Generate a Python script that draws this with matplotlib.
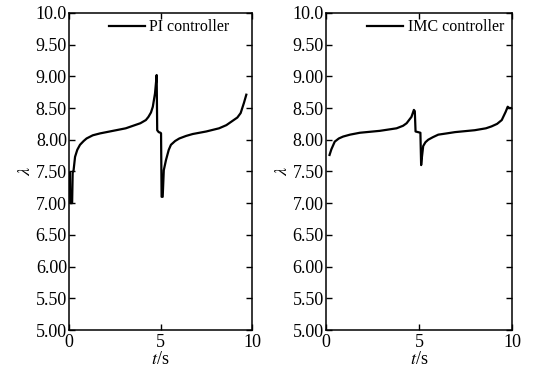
import matplotlib
matplotlib.use("Agg")
import matplotlib.pyplot as plt

plt.rcParams["font.family"] = ["Liberation Serif", "DejaVu Serif"]
plt.rcParams["mathtext.fontset"] = "stix"
plt.rcParams["font.size"] = 13

# PI controller response
t_pi = [0.05, 0.07, 0.17, 0.2, 0.25, 0.33, 0.45, 0.6, 0.8, 0.96, 1.3, 1.7,
        2.4, 3.1, 3.9, 4.2, 4.34, 4.48, 4.58, 4.7, 4.76, 4.79, 4.82, 4.9, 5.0,
        5.03, 5.06, 5.12, 5.18, 5.3, 5.45, 5.57, 5.8, 6.03, 6.4, 6.76, 7.5,
        8.2, 8.6, 8.9, 9.2, 9.38, 9.56, 9.69]
lam_pi = [7.48, 7.0, 7.0, 7.48, 7.52, 7.73, 7.84, 7.92, 7.98, 8.02, 8.07, 8.10,
          8.14, 8.18, 8.26, 8.31, 8.36, 8.43, 8.52, 8.73, 8.92, 9.02, 8.15, 8.12,
          8.11, 8.10, 7.10, 7.10, 7.52, 7.68, 7.84, 7.92, 7.98, 8.02, 8.06, 8.09,
          8.13, 8.18, 8.23, 8.29, 8.35, 8.42, 8.58, 8.71]

# IMC controller response
t_imc = [0.2, 0.3, 0.48, 0.7, 0.93, 1.3, 1.83, 2.9, 3.8, 4.15, 4.34, 4.6, 4.73,
         4.78, 4.82, 4.95, 5.08, 5.12, 5.16, 5.23, 5.35, 5.5, 5.75, 6.04,
         6.5, 6.94, 8.0, 8.6, 8.9, 9.2, 9.45, 9.66, 9.77, 9.85, 10.0]
lam_imc = [7.76, 7.85, 7.97, 8.02, 8.05, 8.08, 8.11, 8.14, 8.18, 8.22, 8.26, 8.36,
           8.47, 8.45, 8.13, 8.12, 8.11, 7.6, 7.72, 7.9, 7.96, 8.0, 8.04, 8.08,
           8.10, 8.12, 8.15, 8.18, 8.21, 8.25, 8.31, 8.44, 8.52, 8.50, 8.50]

y_ticks = [5.0, 5.5, 6.0, 6.5, 7.0, 7.5, 8.0, 8.5, 9.0, 9.5, 10.0]
y_tick_labels = ["5.00", "5.50", "6.00", "6.50", "7.00", "7.50", "8.00",
                 "8.50", "9.00", "9.50", "10.0"]
x_ticks = [0, 5, 10]

fig = plt.figure(figsize=(5.35, 3.74), dpi=100)
ax1 = fig.add_axes([0.129, 0.1176, 0.342, 0.848])
ax2 = fig.add_axes([0.609, 0.1176, 0.348, 0.848])

panels = [(ax1, t_pi, lam_pi, "PI controller", 0.93),
          (ax2, t_imc, lam_imc, "IMC controller", 1.01)]

for ax, t, lam, name, anchor_x in panels:
    ax.plot(t, lam, color="black", linewidth=1.6, label=name)
    ax.set_xlim(0, 10)
    ax.set_ylim(5, 10)
    ax.set_xticks(x_ticks)
    ax.set_yticks(y_ticks)
    ax.set_yticklabels(y_tick_labels)
    ax.tick_params(direction="in", top=True, right=True, length=4, width=1,
                   labelsize=13, pad=1.5)
    ax.tick_params(axis="x", pad=3)
    for s in ax.spines.values():
        s.set_linewidth(1.1)
    ax.set_xlabel("$t$/s", labelpad=0, fontsize=13)
    ax.set_ylabel(r"$\lambda$", labelpad=1, fontsize=13)
    ax.legend(loc="upper right", frameon=False, handlelength=2.25,
              handletextpad=0.3, bbox_to_anchor=(anchor_x, 1.01),
              borderaxespad=0.2, fontsize=11.5)

fig.savefig("out.png", dpi=100)
